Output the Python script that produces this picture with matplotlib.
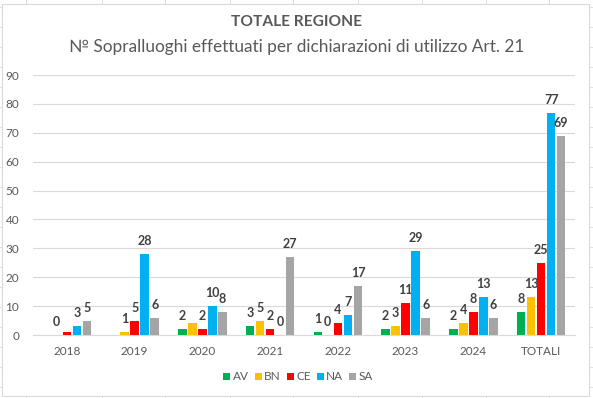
import matplotlib
matplotlib.use("Agg")
import matplotlib.pyplot as plt
from matplotlib.patches import Rectangle
from matplotlib.lines import Line2D
import numpy as np

categories = ["2018", "2019", "2020", "2021", "2022", "2023", "2024", "TOTALI"]
series_names = ["AV", "BN", "CE", "NA", "SA"]
AV = [0, 0, 2, 3, 1, 2, 2, 8]
BN = [0, 1, 4, 5, 0, 3, 4, 13]
CE = [1, 5, 2, 2, 4, 11, 8, 25]
NA = [3, 28, 10, 0, 7, 29, 13, 77]
SA = [5, 6, 8, 27, 17, 6, 6, 69]
# data labels as shown (None = no label shown)
AV_lbl = [None, None, "2", "3", "1", "2", "2", "8"]
BN_lbl = ["0", "1", None, "5", "0", "3", "4", "13"]
CE_lbl = [None, "5", "2", "2", "4", "11", "8", "25"]
NA_lbl = ["3", "28", "10", "0", "7", "29", "13", "77"]
SA_lbl = ["5", "6", "8", "27", "17", "6", "6", "69"]
yticks = [0, 10, 20, 30, 40, 50, 60, 70, 80, 90]

colors = ["#00B050", "#FFC000", "#FF0000", "#00B0F0", "#A5A5A5"]
values = [AV, BN, CE, NA, SA]
labels = [AV_lbl, BN_lbl, CE_lbl, NA_lbl, SA_lbl]

FONT = ["Lato", "DejaVu Sans"]
plt.rcParams["font.family"] = FONT

W, H = 593, 398
fig = plt.figure(figsize=(W / 100, H / 100), dpi=100)
fig.patch.set_facecolor("white")

# spreadsheet grid behind chart
for y in range(7, 398, 20):
    fig.add_artist(Line2D([0, 1], [1 - y / H, 1 - y / H], color="#E1E1E1", lw=0.8, zorder=0))
for x in [26, 102, 165, 230, 293, 358, 422, 486, 549]:
    fig.add_artist(Line2D([x / W, x / W], [0, 1], color="#E1E1E1", lw=0.8, zorder=0))
# chart area
fig.add_artist(Rectangle((2 / W, 1 - 396 / H), (589 - 2) / W, (396 - 4) / H,
                         facecolor="white", edgecolor="#D9D9D9", lw=0.8, zorder=1))

ax = fig.add_axes([33 / W, (H - 335) / H, (575 - 33) / W, (335 - 75) / H], zorder=2)
ax.set_facecolor("none")
x = np.arange(len(categories))
pitch = 0.148
width = 0.126
for i, (vals, lbls, c, name) in enumerate(zip(values, labels, colors, series_names)):
    pos = x + (i - 2) * pitch
    ax.bar(pos, vals, width=width, color=c, label=name, zorder=3)
    for p, v, l in zip(pos, vals, lbls):
        if l is not None:
            ax.annotate(l, (p, v), xytext=(0, 5), textcoords="offset points",
                        ha="center", va="bottom", fontsize=9, fontweight="bold",
                        color="#404040")

ax.set_ylim(0, 90)
ax.set_xlim(-0.5, len(categories) - 0.5)
ax.set_yticks(yticks)
ax.set_xticks(x)
ax.set_xticklabels(categories)
ax.grid(axis="y", color="#D9D9D9", lw=0.8, zorder=0)
ax.set_axisbelow(True)
for s in ["top", "right", "left"]:
    ax.spines[s].set_visible(False)
ax.spines["bottom"].set_color("#D9D9D9")
ax.tick_params(axis="both", length=0, labelsize=8.5, colors="#595959")
ax.tick_params(axis="x", pad=8)
ax.tick_params(axis="y", pad=10)

fig.text(0.5, 1 - 22 / H, "TOTALE REGIONE", ha="center", va="center",
         fontsize=11.2, fontweight="bold", color="#595959")
fig.text(0.5, 1 - 47 / H, "№ Sopralluoghi effettuati per dichiarazioni di utilizzo Art. 21",
         ha="center", va="center", fontsize=12.4, color="#595959")

fig.legend(loc="center", bbox_to_anchor=(298 / W, 1 - 377 / H), ncol=5, frameon=False,
           fontsize=8.5, handlelength=0.6, handleheight=0.6, handletextpad=0.2,
           columnspacing=0.5, labelcolor="#595959")

fig.savefig("out.png", dpi=100)
